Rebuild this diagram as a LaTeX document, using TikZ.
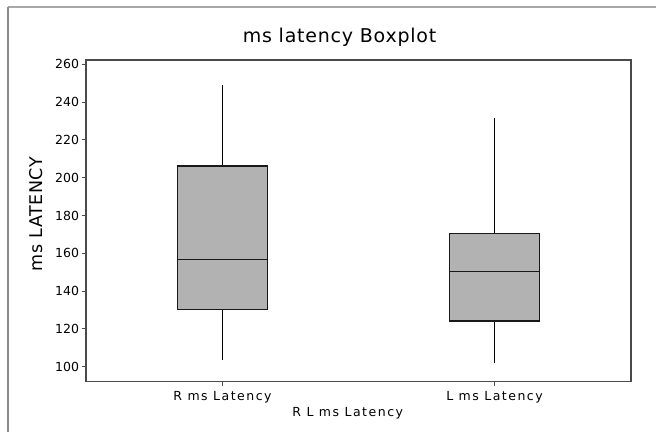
\documentclass[tikz,border=0pt]{standalone}
\usepackage{fontspec}
\usepackage{xcolor}
\usepackage{tikz}
\usetikzlibrary{positioning}
\setmainfont{DejaVu Sans}
\newfontfamily\titlefont[LetterSpace=4]{DejaVu Sans}
\newfontfamily\axisfont[LetterSpace=12]{DejaVu Sans}
\newfontfamily\ylabfont[LetterSpace=3]{DejaVu Sans}
\definecolor{outergray}{HTML}{A8A8A8}
\definecolor{leftgray}{HTML}{8C8C8C}
\definecolor{framegray}{HTML}{4A4A4A}
\definecolor{boxfill}{HTML}{B2B2B2}
% #1 centre, #2 low whisker, #3 Q1, #4 median, #5 Q3, #6 high whisker
\newcommand{\latbox}[6]{%
  \draw[whisker] (#1,#2) -- (#1,#3);
  \draw[whisker] (#1,#5) -- (#1,#6);
  \filldraw[latbox] (#1-45,#3) rectangle (#1+45,#5);
  \draw[latbox] (#1-45,#4) -- (#1+45,#4);
}

\begin{document}
\begin{tikzpicture}[x=1pt, y=1pt,
    whisker/.style={draw=black, line width=1pt},
    latbox/.style={draw=black!90, fill=boxfill, line width=1.3pt},
    plotframe/.style={draw=framegray, line width=1.5pt},
    tickmark/.style={draw=framegray, line width=1pt},
    ticklab/.style={inner sep=0pt, font=\fontsize{12.5}{15}\selectfont},
    axislab/.style={inner sep=0pt, font=\axisfont\fontsize{12.5}{15}\selectfont}]
    \useasboundingbox (0,0) rectangle (656,432);
    % outer border
    \draw[outergray, line width=2pt] (8,425) -- (656,425);
    \draw[leftgray, line width=1.3pt] (8,425) -- (8,0);
    % data area
    \begin{scope}[yshift=-123.7pt, y=1.89pt]
        \coordinate (ll) at (86,92.2);
        \coordinate (ur) at (631,262.3);
        \draw[plotframe] (ll) rectangle (ur);
        \foreach \v in {100,120,...,260} {
            \draw[tickmark] (86,\v) -- ++(-4.5pt,0pt)
                node[ticklab, left=2pt] {\v};
        }
        \latbox{222.5}{103.5}{130.4}{156.8}{206.2}{249}
        \latbox{494.5}{101.8}{124.2}{150.3}{170.6}{231.4}
        \coordinate (rtick) at (222.5,92.2);
        \coordinate (ltick) at (494.5,92.2);
    \end{scope}
    \draw[tickmark] (rtick) -- ++(0pt,-5pt);
    \draw[tickmark] (ltick) -- ++(0pt,-5pt);
    \node[axislab, anchor=base] (rname) at ([yshift=-19.2pt]rtick) {R ms Latency};
    \node[axislab, anchor=base] (lname) at ([yshift=-19.2pt]ltick) {L ms Latency};
    \node[axislab, anchor=base] (xtitle) at (347.7,16) {R L ms Latency};
    \node[inner sep=0pt, anchor=base, rotate=90,
          font=\ylabfont\fontsize{17.5}{20}\selectfont] (ytitle) at (42,218) {ms LATENCY};
    \node[inner sep=0pt, anchor=base,
          font=\titlefont\fontsize{19}{22}\selectfont] (title) at (339.5,389.7) {ms latency Boxplot};
\end{tikzpicture}
\end{document}
